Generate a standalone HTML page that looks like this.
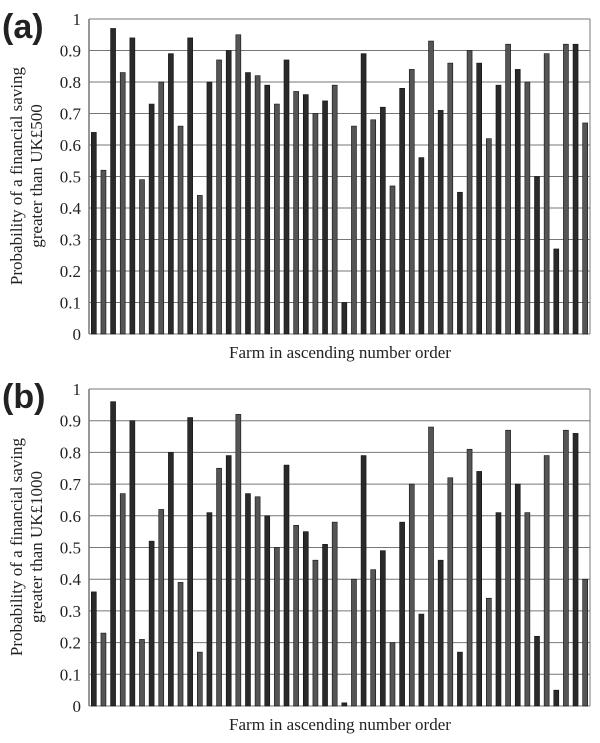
<!DOCTYPE html>
<html><head><meta charset="utf-8"><style>
body{margin:0;background:#fff;}
svg text{font-family:"Liberation Serif",serif;fill:#222;}
</style></head><body>
<svg width="600" height="738" xmlns="http://www.w3.org/2000/svg" id="svg">
<text x="2" y="38" font-size="34" font-weight="bold" style="font-family:'Liberation Sans',sans-serif">(a)</text>
<text x="2" y="408" font-size="34" font-weight="bold" style="font-family:'Liberation Sans',sans-serif">(b)</text>
<text transform="translate(22,176) rotate(-90)" text-anchor="middle" font-size="17">Probability of a financial saving</text>
<text transform="translate(42,176) rotate(-90)" text-anchor="middle" font-size="17">greater than UK£500</text>
<text transform="translate(22,547) rotate(-90)" text-anchor="middle" font-size="17">Probability of a financial saving</text>
<text transform="translate(42,547) rotate(-90)" text-anchor="middle" font-size="17">greater than UK£1000</text>
<text x="340" y="358" text-anchor="middle" font-size="17">Farm in ascending number order</text>
<text x="340" y="730" text-anchor="middle" font-size="17">Farm in ascending number order</text>
<g id="ca"></g><g id="cb"></g>
</svg>
<script>
const ticks=[0,0.1,0.2,0.3,0.4,0.5,0.6,0.7,0.8,0.9,1];
const tickLabels=["0","0.1","0.2","0.3","0.4","0.5","0.6","0.7","0.8","0.9","1"];
const valuesA=[0.64,0.52,0.97,0.83,0.94,0.49,0.73,0.80,0.89,0.66,0.94,0.44,0.80,0.87,0.90,0.95,0.83,0.82,0.79,0.73,0.87,0.77,0.76,0.70,0.74,0.79,0.10,0.66,0.89,0.68,0.72,0.47,0.78,0.84,0.56,0.93,0.71,0.86,0.45,0.90,0.86,0.62,0.79,0.92,0.84,0.80,0.50,0.89,0.27,0.92,0.92,0.67];
const valuesB=[0.36,0.23,0.96,0.67,0.90,0.21,0.52,0.62,0.80,0.39,0.91,0.17,0.61,0.75,0.79,0.92,0.67,0.66,0.60,0.50,0.76,0.57,0.55,0.46,0.51,0.58,0.01,0.40,0.79,0.43,0.49,0.20,0.58,0.70,0.29,0.88,0.46,0.72,0.17,0.81,0.74,0.34,0.61,0.87,0.70,0.61,0.22,0.79,0.05,0.87,0.86,0.40];
const NS="http://www.w3.org/2000/svg";
function mk(t,a,p){const e=document.createElementNS(NS,t);for(const k in a)e.setAttribute(k,a[k]);p.appendChild(e);return e;}
function chart(g,vals,top,bottom,name){
  const L=89,R=590;
  const y=v=>bottom-(bottom-top)*v;
  const n=vals.length,step=(R-L)/n;
  const x=i=>L+step*(i+0.5);
  ticks.forEach((t,i)=>{
    const l=mk('line',{x1:L,x2:R,y1:y(t),y2:y(t),stroke:'#777','stroke-width':1},g);
    
    
    const tx=mk('text',{x:L-8,y:y(t)+6,'text-anchor':'end','font-size':17},g);
    tx.textContent=tickLabels[i];
    
    
  });
  const ax=mk('line',{x1:L,x2:L,y1:top,y2:bottom,stroke:'#777','stroke-width':1.5},g);
  
  
  const rx=mk('line',{x1:R,x2:R,y1:top,y2:bottom,stroke:'#777','stroke-width':1},g);
  
  
  vals.forEach((v,i)=>{
    const b=mk('rect',{x:x(i)-2.5,y:y(v),width:5,height:bottom-y(v),fill:i%2?'#555':'#2a2a2a',stroke:'#111','stroke-width':0.6},g);
    
    
  });
}
chart(document.getElementById('ca'),valuesA,19,334,'chart-a');
chart(document.getElementById('cb'),valuesB,389,706,'chart-b');
</script>
</body></html>
